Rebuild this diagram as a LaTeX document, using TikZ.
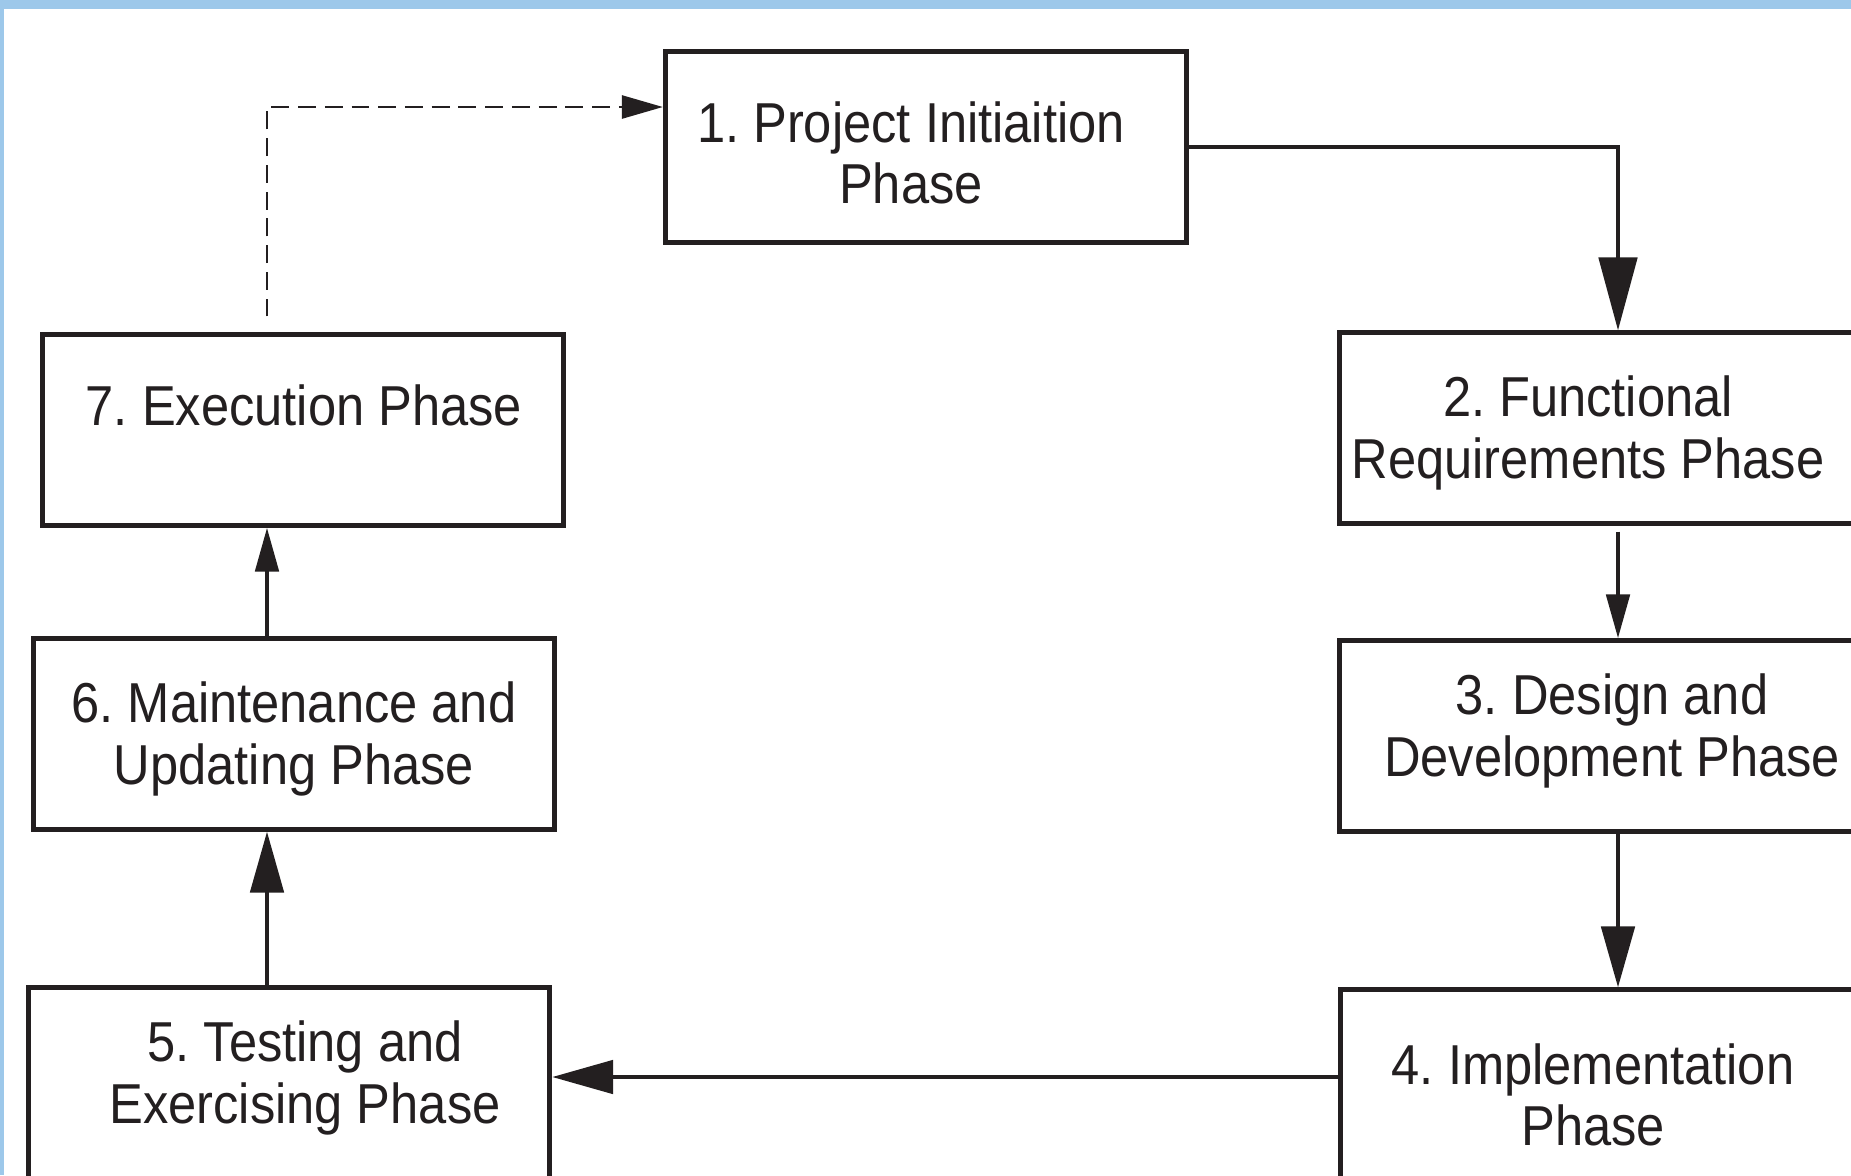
\documentclass[tikz,border=0pt]{standalone}
\usepackage{fontspec}
\setmainfont{Liberation Sans}[FakeStretch=0.9]
\usetikzlibrary{arrows.meta}
\definecolor{bordeazul}{HTML}{9DC8EA}
\definecolor{tinta}{HTML}{231F20}
\frenchspacing

\begin{document}
\begin{tikzpicture}[x=0.01cm, y=-0.01cm,
    caja/.style={draw=tinta, line width=1.4pt, minimum width=5.21cm, minimum height=1.9cm, inner sep=0pt},
    texto/.style={inner sep=0pt, align=center, text=tinta, font=\fontsize{16pt}{17.4pt}\selectfont},
    flecha/.style={draw=tinta, line width=1.4pt, -{Triangle[length=0.61cm,width=0.33cm]}},
    flechita/.style={draw=tinta, line width=1.4pt, -{Triangle[length=0.44cm,width=0.23cm]}},
    retorno/.style={draw=tinta, line width=0.75pt, dash pattern=on 5.1pt off 2.5pt,
      -{Triangle[length=0.41cm,width=0.23cm]}}]

			% Marco y fondo
			\useasboundingbox (0,0) rectangle (1851,1175);
			\clip (0,0) rectangle (1851,1175);
			\fill[white] (0,0) rectangle (1851,1175);
			\fill[bordeazul] (0,0) rectangle (1851,9);
			\fill[bordeazul] (0,0) rectangle (4,1175);

			% Cajas de las fases
			\node[caja] (p1) at (926,147) {};
			\node[caja] (p2) at (1600,428) {};
			\node[caja] (p3) at (1600,736) {};
			\node[caja, minimum height=2.4cm] (p4) at (1601,1110) {};
			\node[caja, minimum height=2.4cm] (p5) at (289,1108) {};
			\node[caja] (p6) at (294,734) {};
			\node[caja] (p7) at (303,430) {};

			% Textos de las fases
			\node[texto] (t1) at (911,153) {1. Project Initiaition\\Phase};
			\node[texto] (t2) at (1588,433) {2. Functional\\Requirements Phase};
			\node[texto] (t3) at (1612,731) {3. Design and\\Development Phase};
			\node[texto] (t4) at (1593,1095) {4. Implementation\\Phase};
			\node[texto] (t5) at (305,1078) {5. Testing and\\Exercising Phase};
			\node[texto] (t6) at (294,739) {6. Maintenance and\\Updating Phase};
			\node[texto] (t7) at (304,405) {7. Execution Phase};

			% Columnas y filas de las flechas
			\coordinate (colD) at (1618,0);
			\coordinate (colI) at (267,0);
			\coordinate (filaA) at (0,107);
			\coordinate (filaB) at (0,1077);

			% Flechas entre fases
			\draw[flecha, -{Triangle[length=0.73cm,width=0.38cm]}] (p1.east) -| (colD |- p2.north);
			\draw[flechita, shorten <=0.06cm] (colD |- p2.south) -- (colD |- p3.north);
			\draw[flecha] (colD |- p3.south) -- (colD |- p4.north);
			\draw[flecha] (p4.west |- filaB) -- (p5.east |- filaB);
			\draw[flecha] (colI |- p5.north) -- (colI |- p6.south);
			\draw[flechita] (colI |- p6.north) -- (colI |- p7.south);
			\draw[retorno, shorten <=0.16cm] (colI |- p7.north) |- (p1.west |- filaA);

		\end{tikzpicture}
\end{document}
